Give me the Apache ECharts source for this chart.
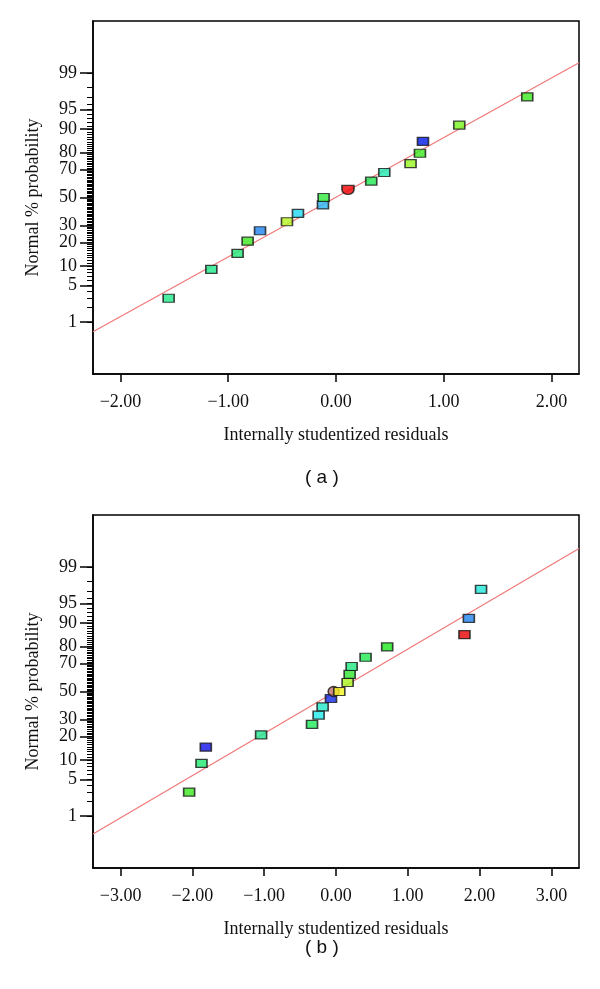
<!DOCTYPE html>
<html>
<head>
<meta charset="utf-8">
<script src="https://cdn.jsdelivr.net/npm/echarts@6/dist/echarts.min.js"></script>
<style>
html,body{margin:0;padding:0;background:#fff;}
#chart{width:600px;height:989px;}
</style>
</head>
<body>
<div id="chart"></div>
<script>
// ---- data ----
const residualsA = [-1.553,-1.157,-0.913,-0.820,-0.705,-0.455,-0.353,-0.121,-0.115,0.111,0.327,0.448,0.692,0.779,0.807,1.144,1.775];
const probA      = [2.98,8.96,14.8,20.7,26.7,32.5,38.3,44.5,50.0,55.6,62.0,68.0,73.7,79.6,85.3,91.2,97.0];
const colorsA    = ['#1EE88A','#1EE88A','#1EE878','#3CE81E','#1E82F0','#B4F51E','#1ED8F0','#28B4F5','#2EE83C','#F00000','#1EE850','#1EE8B0','#96F51E','#3CE81E','#0018E8','#78F51E','#3CE81E'];
const shapesA    = ['rect','rect','rect','rect','rect','rect','rect','rect','rect','half','rect','rect','rect','rect','rect','rect','rect'];

const residualsB = [-2.045,-1.873,-1.813,-1.043,-0.334,-0.242,-0.186,-0.070,-0.033,0.046,0.162,0.190,0.218,0.412,0.713,1.789,1.850,2.020];
const probB      = [3.0,8.95,14.9,20.9,26.9,32.9,38.7,44.8,50.0,50.0,56.7,62.5,68.0,73.9,79.8,85.6,91.4,97.2];
const colorsB    = ['#3CE81E','#1EE86E','#1010E8','#1EE890','#1EE85A','#1EE8E8','#1EE8C8','#1028E8','#C07070','#F5F51E','#A8F51E','#2EE82E','#1EE880','#1EE850','#1EE81E','#E80000','#1E82F0','#1EE8D8'];
const shapesB    = ['rect','rect','rect','rect','rect','rect','rect','rect','circle','rect','rect','rect','rect','rect','rect','rect','rect','rect'];

// reference lines (normal-score vs residual)
const lineA = {slope:1.115, intercept:0.005};
const lineB = {slope:0.789, intercept:0.005};

// axis ticks
const probLabels = [1,5,10,20,30,50,70,80,90,95,99];
const xTicksA = [-2,-1,0,1,2];
const xTicksB = [-3,-2,-1,0,1,2,3];
const xRangeA = [-2.255, 2.255];
const xRangeB = [-3.384, 3.384];
const zRange  = [-3.3, 3.3];
const minorProbs = [];
for (let p = 1; p <= 99; p++) minorProbs.push(p);

// ---- normal probability scale (probit) ----
function probit(pct){
  const p = pct/100;
  const a=[-3.969683028665376e+01,2.209460984245205e+02,-2.759285104469687e+02,1.383577518672690e+02,-3.066479806614716e+01,2.506628277459239e+00];
  const b=[-5.447609879822406e+01,1.615858368580409e+02,-1.556989798598866e+02,6.680131188771972e+01,-1.328068155288572e+01];
  const c=[-7.784894002430293e-03,-3.223964580411365e-01,-2.400758277161838e+00,-2.549732539343734e+00,4.374664141464968e+00,2.938163982698783e+00];
  const d=[7.784695709041462e-03,3.224671290700398e-01,2.445134137142996e+00,3.754408661907416e+00];
  const pl=0.02425, ph=1-pl;
  let q,r;
  if(p<pl){q=Math.sqrt(-2*Math.log(p));return (((((c[0]*q+c[1])*q+c[2])*q+c[3])*q+c[4])*q+c[5])/((((d[0]*q+d[1])*q+d[2])*q+d[3])*q+1);}
  if(p<=ph){q=p-0.5;r=q*q;return (((((a[0]*r+a[1])*r+a[2])*r+a[3])*r+a[4])*r+a[5])*q/(((((b[0]*r+b[1])*r+b[2])*r+b[3])*r+b[4])*r+1);}
  q=Math.sqrt(-2*Math.log(1-p));return -(((((c[0]*q+c[1])*q+c[2])*q+c[3])*q+c[4])*q+c[5])/((((d[0]*q+d[1])*q+d[2])*q+d[3])*q+1);
}
const majorZ = probLabels.map(probit);
const minorZ = minorProbs.map(probit);
function zLabel(v){
  let best=0, bd=1e9;
  majorZ.forEach((z,i)=>{const dd=Math.abs(z-v); if(dd<bd){bd=dd;best=i;}});
  return String(probLabels[best]);
}
function xLabel(v){
  const s = Math.abs(v).toFixed(2);
  return (v < -1e-9 ? '\u2212' : '') + s;
}

const SERIF = '"Liberation Serif","Times New Roman",serif';
const HALF = 'path://M0,0 L12,0 L12,4 A6,5 0 0 1 0,4 Z';

function pts(res, prob, cols, shapes){
  return res.map((x,i)=>{
    const item = {value:[x, probit(prob[i])], itemStyle:{color:cols[i], borderColor:'#151515', borderWidth:1.4}};
    if (shapes[i]==='half'){ item.symbol = HALF; item.symbolSize=[12,9]; }
    else if (shapes[i]==='circle'){ item.symbol = 'circle'; item.symbolSize=[11,10]; }
    return item;
  });
}
function lineData(line, range){
  return range.map(x=>[x, line.slope*x + line.intercept]);
}

const grids = [
  {left:93, top:21, width:486, height:353, show:true, borderColor:'#000', borderWidth:1.5, backgroundColor:'transparent'},
  {left:93, top:515, width:486, height:353, show:true, borderColor:'#000', borderWidth:1.5, backgroundColor:'transparent'}
];

function xAxisCfg(gi, range, ticks){
  return {
    type:'value', gridIndex:gi, min:range[0], max:range[1],
    name:'Internally studentized residuals', nameLocation:'middle', nameGap:52,
    nameTextStyle:{fontFamily:SERIF, fontSize:18, color:'#111'},
    axisLine:{show:true, onZero:false, lineStyle:{color:'#000', width:1.5}},
    axisTick:{show:true, inside:false, length:8, customValues:ticks, lineStyle:{color:'#000', width:1.5}},
    axisLabel:{show:true, customValues:ticks, formatter:xLabel, margin:19, fontFamily:SERIF, fontSize:18, color:'#111'},
    splitLine:{show:false}
  };
}
function yMajorCfg(gi){
  return {
    type:'value', gridIndex:gi, min:zRange[0], max:zRange[1], position:'left',
    name:'Normal % probability', nameLocation:'middle', nameGap:51, nameRotate:90,
    nameTextStyle:{fontFamily:SERIF, fontSize:18, color:'#111'},
    axisLine:{show:true, onZero:false, lineStyle:{color:'#000', width:1.5}},
    axisTick:{show:true, inside:false, length:13, customValues:majorZ, lineStyle:{color:'#000', width:1.5}},
    axisLabel:{show:true, customValues:majorZ, formatter:zLabel, margin:16, fontFamily:SERIF, fontSize:18, color:'#111'},
    splitLine:{show:false}
  };
}
function yMinorCfg(gi){
  return {
    type:'value', gridIndex:gi, min:zRange[0], max:zRange[1], position:'left', offset:0,
    axisLine:{show:false, onZero:false},
    axisTick:{show:true, inside:false, length:6, customValues:minorZ, lineStyle:{color:'#000', width:1}},
    axisLabel:{show:false},
    splitLine:{show:false}
  };
}

const option = {
  backgroundColor:'#fff',
  animation:false,
  grid: grids,
  xAxis: [xAxisCfg(0, xRangeA, xTicksA), xAxisCfg(1, xRangeB, xTicksB)],
  yAxis: [yMajorCfg(0), yMinorCfg(0), yMajorCfg(1), yMinorCfg(1)],
  graphic: [
    {type:'text', left:305, top:468, style:{text:'( a )', font:'19px "Liberation Sans", Arial, sans-serif', fill:'#111'}},
    {type:'text', left:305, top:938, style:{text:'( b )', font:'19px "Liberation Sans", Arial, sans-serif', fill:'#111'}}
  ],
  series: [
    {type:'line', xAxisIndex:0, yAxisIndex:0, data:lineData(lineA, xRangeA), symbol:'none', clip:true,
     lineStyle:{color:'#F07878', width:1.2}, z:2},
    {type:'scatter', xAxisIndex:0, yAxisIndex:0, data:pts(residualsA, probA, colorsA, shapesA),
     symbol:'rect', symbolSize:[11,8], z:3},
    {type:'line', xAxisIndex:1, yAxisIndex:2, data:lineData(lineB, xRangeB), symbol:'none', clip:true,
     lineStyle:{color:'#F07878', width:1.2}, z:2},
    {type:'scatter', xAxisIndex:1, yAxisIndex:2, data:pts(residualsB, probB, colorsB, shapesB),
     symbol:'rect', symbolSize:[11,8], z:3}
  ]
};
const chart = echarts.init(document.getElementById('chart'), null, {renderer:'canvas'});
chart.setOption(option);
</script>
</body>
</html>
